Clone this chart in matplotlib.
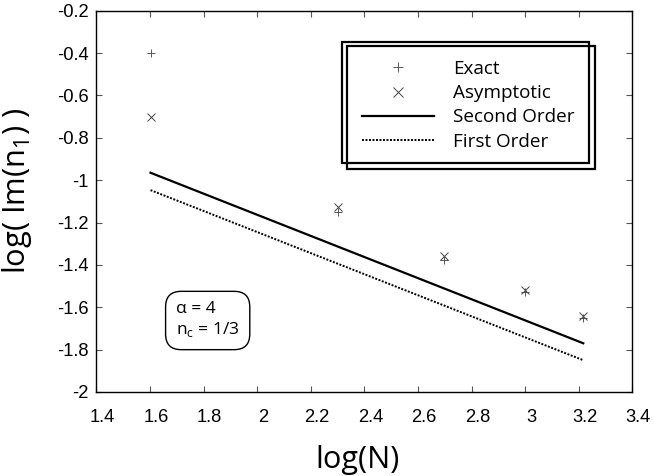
import matplotlib
matplotlib.use("Agg")
import matplotlib.pyplot as plt
from matplotlib.patches import Rectangle
from matplotlib.transforms import ScaledTranslation

# data
logN = [1.602, 2.301, 2.699, 3.0, 3.217]
exact = [-0.40, -1.15, -1.375, -1.53, -1.652]
asymptotic = [-0.70, -1.125, -1.358, -1.519, -1.641]
line_x = [1.602, 3.217]
second_order = [-0.965, -1.770]
first_order = [-1.047, -1.850]
xticks = [1.4, 1.6, 1.8, 2.0, 2.2, 2.4, 2.6, 2.8, 3.0, 3.2, 3.4]
xticklabels = ["1.4", "1.6", "1.8", "2", "2.2", "2.4", "2.6", "2.8", "3", "3.2", "3.4"]
yticks = [-2.0, -1.8, -1.6, -1.4, -1.2, -1.0, -0.8, -0.6, -0.4, -0.2]
yticklabels = ["-2", "-1.8", "-1.6", "-1.4", "-1.2", "-1", "-0.8", "-0.6", "-0.4", "-0.2"]

W, H = 654, 476
fig = plt.figure(figsize=(W / 100, H / 100), dpi=100)
ax = fig.add_axes([96.4 / W, (H - 392) / H, (632.3 - 96.4) / W, (392 - 10.7) / H])

lbl_font = "Open Sans"
tick_font = "Liberation Sans"

h_ex, = ax.plot(logN, exact, linestyle="none", marker="+", markersize=6, mew=0.7, color="#555555", label="Exact")
h_as, = ax.plot(logN, asymptotic, linestyle="none", marker="x", markersize=5.5, mew=0.7, color="#444444", label="Asymptotic")
h_so, = ax.plot(line_x, second_order, color="black", lw=1.6, label="Second Order")
h_fo, = ax.plot(line_x, first_order, color="black", lw=1.4, linestyle=(0, (1, 0.8)), label="First Order")

ax.set_xlim(1.4, 3.4)
ax.set_ylim(-2.0, -0.2)
ax.set_xticks(xticks)
ax.set_xticklabels(xticklabels, fontfamily=tick_font, fontsize=13.2)
ax.set_yticks(yticks)
ax.set_yticklabels(yticklabels, fontfamily=tick_font, fontsize=13.2)
ax.tick_params(direction="in", length=4, width=0.8, top=True, right=True, color="#555555")
ax.tick_params(axis="x", pad=12.5)
ax.tick_params(axis="y", pad=5.8)
for s in ax.spines.values():
    s.set_linewidth(1.0)
shift = ScaledTranslation(6 / 100, 0, fig.dpi_scale_trans)
for t in ax.get_xticklabels():
    t.set_transform(t.get_transform() + shift)

xl = ax.set_xlabel("log(N)", fontfamily=lbl_font, fontsize=21)
yl = ax.set_ylabel("log( Im(n$_\\mathregular{1}$) )", fontfamily=lbl_font, fontsize=21)

# fit label sizes to the reference extents
fig.canvas.draw()
r = fig.canvas.get_renderer()
bb = xl.get_window_extent(r)
xl.set_fontsize(xl.get_fontsize() * 84 / bb.width)
bb = yl.get_window_extent(r)
yl.set_fontsize(yl.get_fontsize() * 166 / bb.height)

ax.xaxis.set_label_coords(358 / W, (H - 468) / H, transform=fig.transFigure)
xl.set_va("baseline")
xl.set_ha("center")
ax.yaxis.set_label_coords(25.5 / W, (H - 191) / H, transform=fig.transFigure)
yl.set_va("baseline")
yl.set_ha("center")
yl.set_rotation_mode("anchor")

# legend with double frame
tr = fig.transFigure
for (x0, y0, x1, y1) in [(346.5, 45.7, 595, 169), (341.7, 41.7, 589, 163)]:
    rc = Rectangle((x0 / W, (H - y1) / H), (x1 - x0) / W, (y1 - y0) / H,
                   transform=tr, fill=False, lw=1.6, ec="black", clip_on=False, zorder=4)
    ax.add_artist(rc)
leg = ax.legend(handles=[h_ex, h_as, h_so, h_fo], loc="upper left",
                bbox_to_anchor=(362 / W, (H - 60) / H), bbox_transform=tr,
                frameon=False, prop={"family": lbl_font, "size": 13.6},
                handlelength=3.8, handletextpad=1.0, labelspacing=0.33, borderpad=0,
                borderaxespad=0, markerscale=1.2)
leg.set_zorder(5)

# parameter box
fig.text(176 / W, (H - 320) / H, "α = 4\nn$_\\mathregular{c}$ = 1/3", fontfamily=lbl_font, fontsize=12.5,
         va="center", ha="left", linespacing=1.25,
         bbox=dict(boxstyle="round,pad=0.6,rounding_size=0.9", fc="white", ec="black", lw=1.0))

fig.savefig("out.png", dpi=100)
